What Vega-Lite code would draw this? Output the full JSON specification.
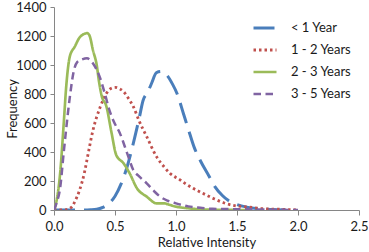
{
  "$schema": "https://vega.github.io/schema/vega-lite/v6.json",
  "width": 305,
  "height": 203,
  "autosize": "none",
  "padding": {"left": 54, "top": 7, "right": 10, "bottom": 42},
  "background": "white",
  "config": {
    "view": {"stroke": null},
    "font": "Lato",
    "axis": {"grid": false, "domainColor": "#868686", "tickColor": "#868686", "labelColor": "#1a1a1a", "titleColor": "#1a1a1a", "labelFont": "Lato", "titleFont": "Lato", "labelFontSize": 13, "titleFontSize": 13, "titleFontWeight": "normal"}
  },
  "data": {"values": [
    {"s":"< 1 Year","x":0,"y":0},{"s":"< 1 Year","x":0.1,"y":0},{"s":"< 1 Year","x":0.2,"y":0},{"s":"< 1 Year","x":0.3,"y":2},{"s":"< 1 Year","x":0.35,"y":5},{"s":"< 1 Year","x":0.4,"y":18},{"s":"< 1 Year","x":0.45,"y":45},{"s":"< 1 Year","x":0.5,"y":95},{"s":"< 1 Year","x":0.55,"y":180},{"s":"< 1 Year","x":0.6,"y":300},{"s":"< 1 Year","x":0.65,"y":460},{"s":"< 1 Year","x":0.7,"y":640},{"s":"< 1 Year","x":0.73,"y":755},{"s":"< 1 Year","x":0.77,"y":815},{"s":"< 1 Year","x":0.8,"y":874},{"s":"< 1 Year","x":0.84,"y":948},{"s":"< 1 Year","x":0.88,"y":955},{"s":"< 1 Year","x":0.92,"y":935},{"s":"< 1 Year","x":0.97,"y":870},{"s":"< 1 Year","x":1.01,"y":800},{"s":"< 1 Year","x":1.06,"y":667},{"s":"< 1 Year","x":1.1,"y":560},{"s":"< 1 Year","x":1.15,"y":430},{"s":"< 1 Year","x":1.2,"y":340},{"s":"< 1 Year","x":1.27,"y":235},{"s":"< 1 Year","x":1.32,"y":160},{"s":"< 1 Year","x":1.38,"y":100},{"s":"< 1 Year","x":1.43,"y":65},{"s":"< 1 Year","x":1.5,"y":38},{"s":"< 1 Year","x":1.58,"y":20},{"s":"< 1 Year","x":1.66,"y":10},{"s":"< 1 Year","x":1.78,"y":3},{"s":"< 1 Year","x":1.9,"y":0},
    {"s":"1 - 2 Years","x":0,"y":0},{"s":"1 - 2 Years","x":0.05,"y":0},{"s":"1 - 2 Years","x":0.1,"y":2},{"s":"1 - 2 Years","x":0.15,"y":25},{"s":"1 - 2 Years","x":0.17,"y":57},{"s":"1 - 2 Years","x":0.21,"y":138},{"s":"1 - 2 Years","x":0.25,"y":260},{"s":"1 - 2 Years","x":0.27,"y":345},{"s":"1 - 2 Years","x":0.32,"y":552},{"s":"1 - 2 Years","x":0.38,"y":713},{"s":"1 - 2 Years","x":0.43,"y":805},{"s":"1 - 2 Years","x":0.47,"y":840},{"s":"1 - 2 Years","x":0.5,"y":846},{"s":"1 - 2 Years","x":0.54,"y":835},{"s":"1 - 2 Years","x":0.57,"y":816},{"s":"1 - 2 Years","x":0.61,"y":770},{"s":"1 - 2 Years","x":0.65,"y":713},{"s":"1 - 2 Years","x":0.7,"y":610},{"s":"1 - 2 Years","x":0.76,"y":506},{"s":"1 - 2 Years","x":0.84,"y":368},{"s":"1 - 2 Years","x":0.9,"y":300},{"s":"1 - 2 Years","x":0.95,"y":253},{"s":"1 - 2 Years","x":1.03,"y":210},{"s":"1 - 2 Years","x":1.08,"y":180},{"s":"1 - 2 Years","x":1.14,"y":150},{"s":"1 - 2 Years","x":1.22,"y":115},{"s":"1 - 2 Years","x":1.31,"y":78},{"s":"1 - 2 Years","x":1.39,"y":50},{"s":"1 - 2 Years","x":1.48,"y":30},{"s":"1 - 2 Years","x":1.58,"y":22},{"s":"1 - 2 Years","x":1.7,"y":10},{"s":"1 - 2 Years","x":1.85,"y":5},{"s":"1 - 2 Years","x":2.0,"y":1},
    {"s":"2 - 3 Years","x":0,"y":0},{"s":"2 - 3 Years","x":0.02,"y":60},{"s":"2 - 3 Years","x":0.05,"y":250},{"s":"2 - 3 Years","x":0.08,"y":600},{"s":"2 - 3 Years","x":0.1,"y":850},{"s":"2 - 3 Years","x":0.13,"y":1060},{"s":"2 - 3 Years","x":0.17,"y":1126},{"s":"2 - 3 Years","x":0.21,"y":1190},{"s":"2 - 3 Years","x":0.25,"y":1215},{"s":"2 - 3 Years","x":0.27,"y":1220},{"s":"2 - 3 Years","x":0.29,"y":1205},{"s":"2 - 3 Years","x":0.32,"y":1100},{"s":"2 - 3 Years","x":0.35,"y":1000},{"s":"2 - 3 Years","x":0.37,"y":880},{"s":"2 - 3 Years","x":0.39,"y":790},{"s":"2 - 3 Years","x":0.43,"y":713},{"s":"2 - 3 Years","x":0.47,"y":540},{"s":"2 - 3 Years","x":0.51,"y":380},{"s":"2 - 3 Years","x":0.57,"y":322},{"s":"2 - 3 Years","x":0.62,"y":253},{"s":"2 - 3 Years","x":0.68,"y":150},{"s":"2 - 3 Years","x":0.76,"y":92},{"s":"2 - 3 Years","x":0.84,"y":46},{"s":"2 - 3 Years","x":0.9,"y":46},{"s":"2 - 3 Years","x":0.95,"y":35},{"s":"2 - 3 Years","x":1.0,"y":23},{"s":"2 - 3 Years","x":1.1,"y":12},{"s":"2 - 3 Years","x":1.2,"y":5},{"s":"2 - 3 Years","x":1.4,"y":1},{"s":"2 - 3 Years","x":1.6,"y":0},
    {"s":"3 - 5 Years","x":0,"y":0},{"s":"3 - 5 Years","x":0.02,"y":46},{"s":"3 - 5 Years","x":0.05,"y":150},{"s":"3 - 5 Years","x":0.08,"y":400},{"s":"3 - 5 Years","x":0.1,"y":560},{"s":"3 - 5 Years","x":0.13,"y":780},{"s":"3 - 5 Years","x":0.16,"y":950},{"s":"3 - 5 Years","x":0.19,"y":1020},{"s":"3 - 5 Years","x":0.23,"y":1038},{"s":"3 - 5 Years","x":0.27,"y":1046},{"s":"3 - 5 Years","x":0.32,"y":1011},{"s":"3 - 5 Years","x":0.38,"y":905},{"s":"3 - 5 Years","x":0.42,"y":793},{"s":"3 - 5 Years","x":0.45,"y":700},{"s":"3 - 5 Years","x":0.49,"y":610},{"s":"3 - 5 Years","x":0.54,"y":530},{"s":"3 - 5 Years","x":0.6,"y":390},{"s":"3 - 5 Years","x":0.65,"y":276},{"s":"3 - 5 Years","x":0.7,"y":230},{"s":"3 - 5 Years","x":0.76,"y":184},{"s":"3 - 5 Years","x":0.82,"y":130},{"s":"3 - 5 Years","x":0.87,"y":92},{"s":"3 - 5 Years","x":0.93,"y":65},{"s":"3 - 5 Years","x":1.0,"y":46},{"s":"3 - 5 Years","x":1.1,"y":25},{"s":"3 - 5 Years","x":1.2,"y":15},{"s":"3 - 5 Years","x":1.3,"y":8},{"s":"3 - 5 Years","x":1.45,"y":6},{"s":"3 - 5 Years","x":1.6,"y":5},{"s":"3 - 5 Years","x":1.8,"y":2},{"s":"3 - 5 Years","x":2.0,"y":0}
  ]},
  "mark": {"type": "line", "interpolate": "monotone", "strokeCap": "butt", "clip": true},
  "encoding": {
    "x": {"field": "x", "type": "quantitative", "title": "Relative Intensity",
      "scale": {"domain": [0, 2.5], "nice": false, "zero": true},
      "axis": {"values": [0, 0.5, 1, 1.5, 2, 2.5], "tickSize": 5, "labelPadding": 5, "titlePadding": 3, "labelFlush": false}},
    "y": {"field": "y", "type": "quantitative", "title": "Frequency",
      "scale": {"domain": [0, 1400], "nice": false},
      "axis": {"values": [0, 200, 400, 600, 800, 1000, 1200, 1400], "format": "d", "tickSize": 4, "labelPadding": 4, "titlePadding": -4, "labelFlush": false}},
    "color": {"field": "s", "type": "nominal", "title": null,
      "scale": {"domain": ["< 1 Year", "1 - 2 Years", "2 - 3 Years", "3 - 5 Years"], "range": ["#4A7EBB", "#C0504D", "#9BBB59", "#8064A2"]},
      "legend": {"orient": "none", "legendX": 198, "legendY": 8, "symbolType": "stroke", "symbolSize": 529, "labelFontSize": 13, "labelFont": "Lato", "labelColor": "#1a1a1a", "labelOffset": 13, "rowPadding": 2}},
    "strokeDash": {"field": "s", "type": "nominal", "title": null,
      "scale": {"domain": ["< 1 Year", "1 - 2 Years", "2 - 3 Years", "3 - 5 Years"], "range": [[21, 9], [2.5, 3], [1, 0], [7.5, 4.5]]}},
    "strokeWidth": {"field": "s", "type": "nominal", "title": null, "legend": null,
      "scale": {"domain": ["< 1 Year", "1 - 2 Years", "2 - 3 Years", "3 - 5 Years"], "range": [3, 2.5, 1.75, 3]}}
  }
}
